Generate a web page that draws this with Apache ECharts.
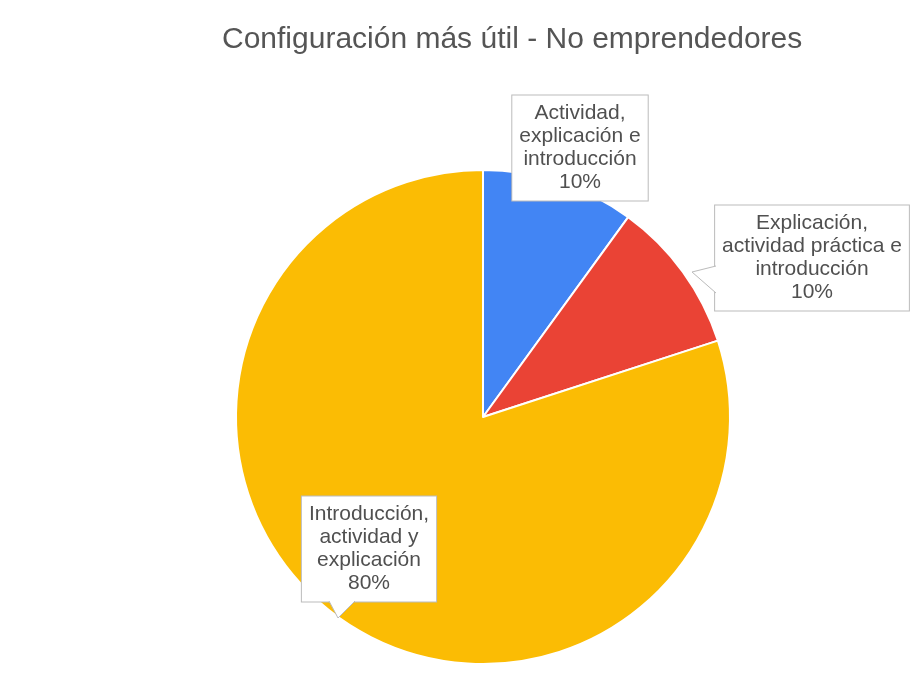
<!DOCTYPE html>
<html>
<head>
<meta charset="utf-8">
<script src="https://cdn.jsdelivr.net/npm/echarts@6/dist/echarts.min.js"></script>
<style>
  html, body { margin: 0; padding: 0; background: #fff; }
  #chart { width: 924px; height: 693px; }
</style>
</head>
<body>
<div id="chart"></div>
<script>
// datos
const categories = [
  'Actividad,\nexplicación e\nintroducción',
  'Explicación,\nactividad práctica e\nintroducción',
  'Introducción,\nactividad y\nexplicación'
]
const values = [10, 10, 80]
const colors = ['#4285F4', '#EA4335', '#FBBC04']

// posiciones de las etiquetas (centro de cada caja)
const labelPos = [[580, 148], [812, 258], [369, 549]]

const chart = echarts.init(document.getElementById('chart'))

function pointer (pts) {
  // relleno blanco que tapa el borde de la caja + dos lados grises
  return [
    {
      type: 'polygon',
      z: 100,
      shape: { points: pts },
      style: { fill: '#fff' }
    },
    {
      type: 'polyline',
      z: 101,
      shape: { points: pts },
      style: { stroke: '#bbb', lineWidth: 1, fill: null }
    }
  ]
}

const option = {
  backgroundColor: '#fff',
  title: {
    text: 'Configuración más útil - No emprendedores',
    left: 217,
    top: 20,
    textStyle: {
      fontFamily: 'Liberation Sans, Arial, sans-serif',
      fontSize: 30,
      fontWeight: 'normal',
      color: '#555'
    }
  },
  graphic: [
    ...pointer([[716, 266], [692, 272], [716, 293]]),
    ...pointer([[329, 601], [338, 618], [355, 601]])
  ],
  series: [
    {
      type: 'pie',
      center: [483, 417],
      radius: 247,
      startAngle: 90,
      clockwise: true,
      silent: true,
      data: categories.map((c, i) => ({
        name: c,
        value: values[i],
        itemStyle: { color: colors[i] }
      })),
      itemStyle: {
        borderColor: '#fff',
        borderWidth: 2
      },
      label: {
        show: true,
        position: 'inside',
        overflow: 'none',
        formatter: '{b}\n{d}%',
        fontFamily: 'Liberation Sans, Arial, sans-serif',
        fontSize: 21,
        lineHeight: 23,
        color: '#505050',
        align: 'center',
        backgroundColor: '#fff',
        borderColor: '#bbb',
        borderWidth: 1,
        padding: [7, 7, 6, 7]
      },
      labelLine: { show: false },
      labelLayout: function (params) {
        const p = labelPos[params.dataIndex]
        return {
          x: p[0],
          y: p[1],
          align: 'center',
          verticalAlign: 'middle'
        }
      }
    }
  ]
}

chart.setOption(option)
</script>
</body>
</html>
